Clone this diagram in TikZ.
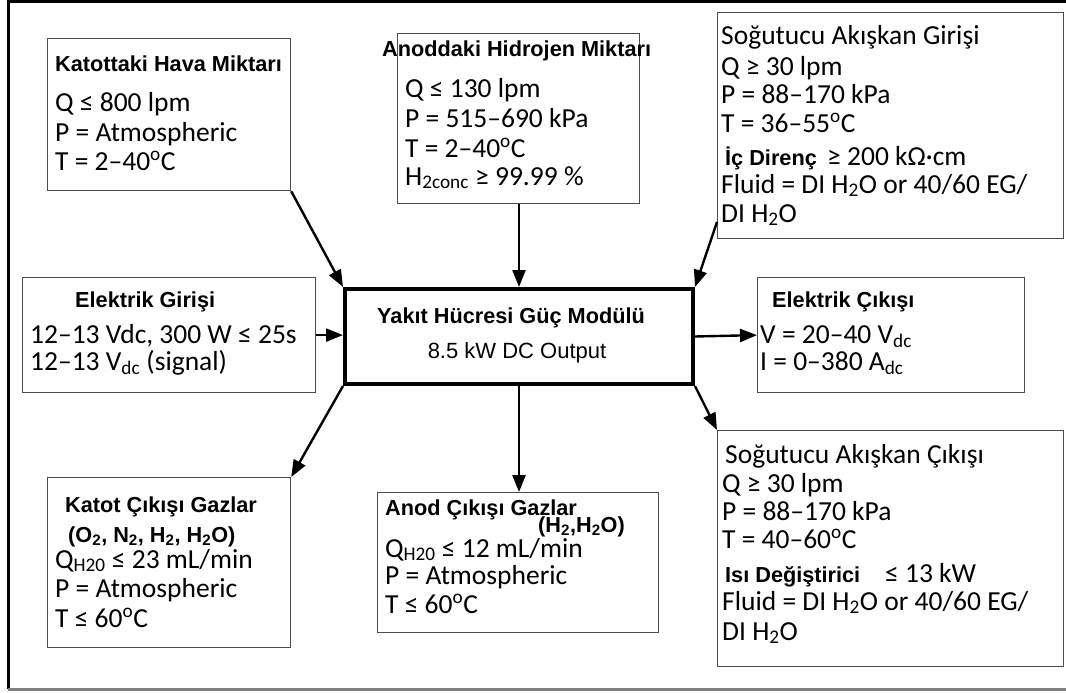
\documentclass[tikz,border=0pt]{standalone}
\usepackage{fontspec}
\setmainfont{Carlito}
\newfontfamily\arialf{Liberation Sans}
\usetikzlibrary{arrows.meta}
\newcommand\bodyf{\fontsize{27.5}{29}\selectfont}
\newcommand\titlef{\arialf\bfseries\fontsize{21.7}{24}\selectfont}
\newcommand\subtitlef{\arialf\fontsize{22}{24}\selectfont}
\tikzset{
  box/.style={draw=black!70, line width=1.2pt, inner sep=0pt, anchor=north west},
  corebox/.style={draw=black, line width=4pt, inner sep=0pt, anchor=north west},
  txt/.style={inner sep=0pt, anchor=base west, font=\bodyf},
  ttl/.style={inner sep=0pt, anchor=base west, font=\titlef},
  arr/.style={line width=2.4pt, -{Triangle[length=17pt,width=13pt]}},
}
\begin{document}
\begin{tikzpicture}[x=1pt,y=-1pt]
\useasboundingbox[fill=white] (0,0) rectangle (1066,693);
% frame
\draw[line width=3pt] (1066,2) -- (8,2) -- (8,689);
\draw[line width=3pt, black!50] (8,689) -- (1066,689);

% boxes
\node[box, minimum width=243pt, minimum height=152pt] (b1) at (47,38) {};
\node[box, minimum width=242pt, minimum height=170pt] (b2) at (397,33) {};
\node[box, minimum width=346pt, minimum height=226pt] (b3) at (717,12) {};
\node[box, minimum width=293pt, minimum height=115pt] (b4) at (22,277) {};
\node[corebox, minimum width=348pt, minimum height=95pt] (ym) at (343,287) {};
\node[box, minimum width=267pt, minimum height=115pt] (b6) at (757,277) {};
\node[box, minimum width=243pt, minimum height=170pt] (b7) at (47,477) {};
\node[box, minimum width=281pt, minimum height=140pt] (b8) at (377,492) {};
\node[box, minimum width=346pt, minimum height=236pt] (b9) at (717,430) {};

% box 1
\node[ttl] (t1a) at (55,72) {Katottaki Hava Miktarı};
\node[txt] (t1b) at (55,111) {Q ≤ 800 lpm};
\node[txt] (t1c) at (55,141) {P = Atmospheric};
\node[txt] (t1d) at (55,170) {T = 2–40\textsuperscript{o}C};

% box 2
\node[ttl] (t2a) at (382,57) {Anoddaki Hidrojen Miktarı};
\node[txt] (t2b) at (405,98) {Q ≤ 130 lpm};
\node[txt] (t2c) at (405,128) {P = 515–690 kPa};
\node[txt] (t2d) at (405,157) {T = 2–40\textsuperscript{o}C};
\node[txt] (t2e) at (405,185) {H\textsubscript{2conc} ≥ 99.99 \%};

% box 3
\node[txt] (t3a) at (721,45) {Soğutucu Akışkan Girişi};
\node[txt] (t3b) at (721,75) {Q ≥ 30 lpm};
\node[txt] (t3c) at (721,103) {P = 88–170 kPa};
\node[txt] (t3d) at (721,132) {T = 36–55\textsuperscript{o}C};
\node[ttl] (t3e) at (725,165) {İç Direnç};
\node[txt] (t3f) at (827,165) {≥ 200 kΩ·cm};
\node[txt] (t3g) at (721,193) {Fluid = DI H\textsubscript{2}O or 40/60 EG/};
\node[txt] (t3h) at (721,222) {DI H\textsubscript{2}O};

% box 4
\node[ttl] (t4a) at (75,307) {Elektrik Girişi};
\node[txt] (t4b) at (30,343) {12–13 Vdc, 300 W ≤ 25s};
\node[txt] (t4c) at (30,370) {12–13 V\textsubscript{dc} (signal)};

% core
\node[inner sep=0pt, anchor=base, font=\titlef] (ya) at (511,323) {Yakıt Hücresi Güç Modülü};
\node[inner sep=0pt, anchor=base, font=\subtitlef] (yb) at (517,358) {8.5 kW DC Output};

% box 6
\node[ttl] (t6a) at (772,307) {Elektrik Çıkışı};
\node[txt] (t6b) at (760,343) {V = 20–40 V\textsubscript{dc}};
\node[txt] (t6c) at (760,370) {I = 0–380 A\textsubscript{dc}};

% box 7
\node[ttl] (t7a) at (65,512) {Katot Çıkışı Gazlar};
\node[ttl] (t7b) at (68,542) {(O\textsubscript{2}, N\textsubscript{2}, H\textsubscript{2}, H\textsubscript{2}O)};
\node[txt] (t7c) at (55,568) {Q\textsubscript{H20} ≤ 23 mL/min};
\node[txt] (t7d) at (55,597) {P = Atmospheric};
\node[txt] (t7e) at (55,627) {T ≤ 60\textsuperscript{o}C};

% box 8
\node[ttl] (t8a) at (385,515) {Anod Çıkışı Gazlar};
\node[ttl] (t8b) at (538,532) {(H\textsubscript{2},H\textsubscript{2}O)};
\node[txt] (t8c) at (385,557) {Q\textsubscript{H20} ≤ 12 mL/min};
\node[txt] (t8d) at (385,584) {P = Atmospheric};
\node[txt] (t8e) at (385,613) {T ≤ 60\textsuperscript{o}C};

% box 9
\node[txt] (t9a) at (725,463) {Soğutucu Akışkan Çıkışı};
\node[txt] (t9b) at (722,492) {Q ≥ 30 lpm};
\node[txt] (t9c) at (722,520) {P = 88–170 kPa};
\node[txt] (t9d) at (722,548) {T = 40–60\textsuperscript{o}C};
\node[ttl] (t9e) at (725,582) {Isı Değiştirici};
\node[txt] (t9f) at (885,582) {≤ 13 kW};
\node[txt] (t9g) at (722,610) {Fluid = DI H\textsubscript{2}O or 40/60 EG/};
\node[txt] (t9h) at (722,640) {DI H\textsubscript{2}O};

% connectors
\coordinate (c3) at (717,222);
\draw[arr] (b1.south east) -- (ym.north west);
\draw[arr] (b2.south -| ym.north) -- (ym.north);
\draw[arr] (c3) -- (ym.north east);
\draw[arr] (b4.east) -- (b4.east -| ym.west);
\draw[arr] (ym.east) -- (b6.west);
\draw[arr] (ym.south west) -- (b7.north east);
\draw[arr] (ym.south) -- (ym.south |- b8.north);
\draw[arr] (ym.south east) -- (b9.north west);
\end{tikzpicture}
\end{document}
